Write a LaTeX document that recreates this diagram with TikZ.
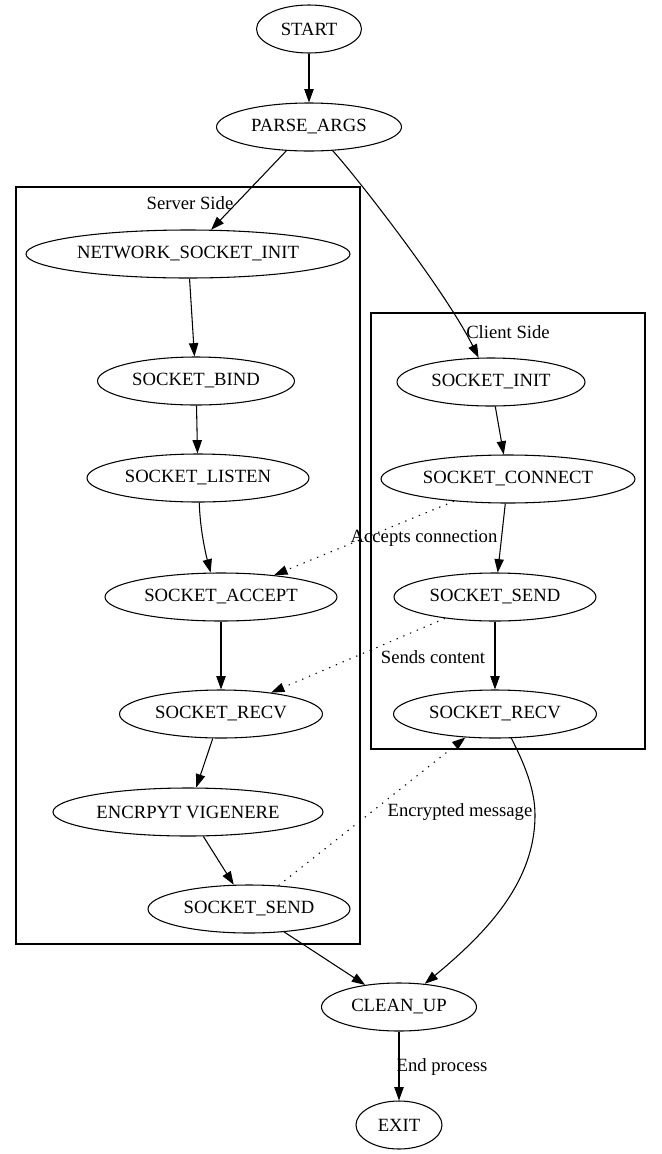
\documentclass[tikz,border=0pt]{standalone}
\usepackage{fontspec}
\setmainfont{Liberation Serif}
\usetikzlibrary{shapes.geometric,arrows.meta}
\tikzset{
  state/.style={draw,ellipse,line width=0.8pt,inner sep=0pt,minimum height=36pt,minimum width={#1*0.75pt}},
  flow/.style={line width=0.8pt,-{Triangle[length=10pt,width=7pt]}},
  msg/.style={flow,dash pattern=on 1pt off 4.5pt},
  cluster/.style={draw,line width=0.8pt}
}

\begin{document}
\begin{tikzpicture}[x=0.75pt,y=-0.75pt,font=\fontsize{14}{17}\selectfont]
\useasboundingbox (0,0) rectangle (661,1154);
\draw[cluster] (16,187) rectangle (360,944);
\draw[cluster] (371,313) rectangle (645,749);
\node (servertitle) at (190,203) {Server Side};
\node (clienttitle) at (508,332) {Client Side};

\node[state=105] (start) at (309,29) {START};
\node[state=185] (parse) at (309,127) {PARSE\_ARGS};
\node[state=324] (netinit) at (188,254) {NETWORK\_SOCKET\_INIT};
\node[state=197] (bind) at (196,381) {SOCKET\_BIND};
\node[state=222] (listen) at (198,478) {SOCKET\_LISTEN};
\node[state=232] (accept) at (221,597) {SOCKET\_ACCEPT};
\node[state=203] (srecv) at (221,714) {SOCKET\_RECV};
\node[state=270] (encrypt) at (188,812) {ENCRPYT VIGENERE};
\node[state=202] (ssend) at (249,909) {SOCKET\_SEND};
\node[state=188] (cinit) at (491,382) {SOCKET\_INIT};
\node[state=254] (connect) at (508,479) {SOCKET\_CONNECT};
\node[state=202] (csend) at (495,597) {SOCKET\_SEND};
\node[state=203] (crecv) at (495,714) {SOCKET\_RECV};
\node[state=155] (cleanup) at (399,1007) {CLEAN\_UP};
\node[state=86] (exit) at (399,1125) {EXIT};

\draw[flow] (start) -- (parse);
\draw[flow] (parse) -- (netinit);
\draw[flow] (parse.-45) .. controls (355,175) and (445,290) .. (cinit.117);
\draw[flow] (netinit) -- (bind);
\draw[flow] (bind) -- (listen);
\draw[flow] (listen.-87) .. controls (200,530) and (206,555) .. (accept.113);
\draw[flow] (accept) -- (srecv);
\draw[flow] (srecv) -- (encrypt);
\draw[flow] (encrypt) -- (ssend);
\draw[flow] (cinit) -- (connect);
\draw[flow] (connect) -- (csend);
\draw[flow] (csend) -- (crecv);
\draw[flow] (ssend) -- (cleanup);
\draw[flow] (crecv.-56) .. controls (525,765) and (535,790) .. (535,815)
  .. controls (535,880) and (490,930) .. (cleanup.42);
\draw[flow] (cleanup) -- (exit);

\draw[msg] (connect) -- (accept);
\draw[msg] (csend) -- (srecv);
\draw[msg] (ssend) -- (crecv);

\node (acceptlbl) at (424,538) {Accepts connection};
\node (sendlbl) at (433,657) {Sends content};
\node (encryptlbl) at (460,812) {Encrypted message};
\node (endlbl) at (442,1067) {End process};
\end{tikzpicture}
\end{document}
